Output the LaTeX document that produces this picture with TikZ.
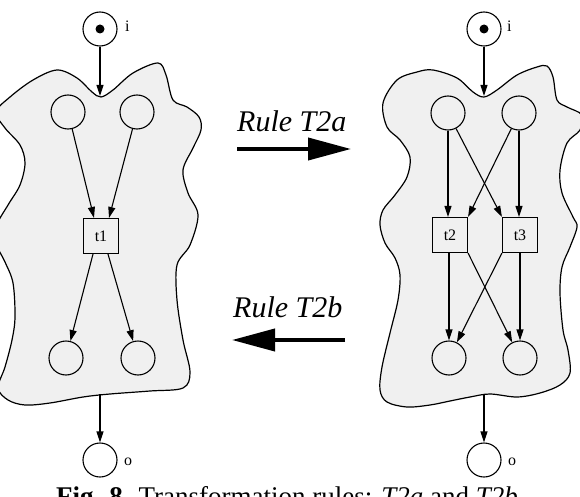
\documentclass[tikz,border=0pt]{standalone}
\usepackage{fontspec}
\setmainfont{Liberation Serif}
\usetikzlibrary{arrows.meta}
\begin{document}
\begin{tikzpicture}[x=1pt,y=-1pt,
  place/.style={circle,draw,line width=1.1pt,minimum size=34pt,inner sep=0pt},
  trans/.style={rectangle,draw,line width=1.1pt,minimum size=35pt,inner sep=0pt,font=\fontsize{16}{18}\selectfont},
  arc/.style={line width=1.1pt,-{Triangle[length=11pt,width=7pt]}},
  blob/.style={draw,line width=1.2pt,fill=gray!12},
  lbl/.style={anchor=base west,inner sep=0pt,font=\fontsize{16}{18}\selectfont},
  rulearrow/.style={line width=4pt,-{Triangle[length=43pt,width=22pt]}},
  ruletext/.style={anchor=base west,inner sep=0pt,font=\fontsize{30}{34}\selectfont\itshape}]
\useasboundingbox (0,0) rectangle (580,497);

% ---------- left blob ----------
\draw[blob] plot[smooth cycle,tension=0.55] coordinates {
 (-4,112) (10,97) (33,80) (57,70) (77,78) (92,92) (101,97) (113,90) (133,73)
 (158,63) (166,75) (173,100) (187,107) (199,117) (201,130) (193,148) (183,170)
 (188,193) (198,215) (190,245) (177,265) (177,300) (183,340) (190,372) (183,388)
 (150,391) (110,394) (83,397) (50,403) (25,405) (8,400) (-2,388) (5,367)
 (12,340) (15,317) (13,283) (5,262) (-3,245) (-3,225) (8,205) (20,185)
 (25,163) (20,145) (5,128)};

% ---------- right blob ----------
\draw[blob] plot[smooth cycle,tension=0.55] coordinates {
 (383,103) (397,80) (417,72) (433,70) (457,78) (473,92) (484,97) (497,90)
 (517,75) (537,67) (547,66) (553,77) (557,100) (567,107) (582,115) (580,130)
 (567,143) (560,170) (562,193) (573,217) (577,227) (570,247) (562,267) (560,293)
 (563,330) (568,350) (570,373) (560,385) (540,393) (517,397) (490,394) (470,397)
 (450,401) (430,405) (407,407) (387,402) (380,390) (382,367) (390,333) (398,300)
 (400,275) (395,258) (385,243) (380,225) (383,210) (395,195) (407,177) (410,157)
 (400,140) (387,127)};

% ---------- left net ----------
\node[place] (li) at (100,29) {};
\fill (li.center) circle (4.5pt);
\node[lbl] (lil) at (125,32) {i};
\coordinate (ldip) at (100,96);
\draw[arc] (li) -- (ldip);
\node[place] (p1) at (68,112) {};
\node[place] (p2) at (137,112) {};
\node[trans] (t1) at (101,236) {t1};
\node[place] (p3) at (66,358) {};
\node[place] (p4) at (138,358) {};
\draw[arc] (p1) -- ([xshift=-7pt]t1.north);
\draw[arc] (p2) -- ([xshift=8pt]t1.north);
\draw[arc] ([xshift=-8pt]t1.south) -- (p3);
\draw[arc] ([xshift=7pt]t1.south) -- (p4);
\coordinate (lbot) at (100,394);
\node[place] (lo) at (100,460) {};
\node[lbl] (lol) at (124,465) {o};
\draw[arc] (lbot) -- (lo);

% ---------- right net ----------
\node[place] (ri) at (484,29) {};
\fill (ri.center) circle (4.5pt);
\node[lbl] (ril) at (507,32) {i};
\coordinate (rdip) at (484,96);
\draw[arc] (ri) -- (rdip);
\node[place] (q1) at (448,113) {};
\node[place] (q2) at (519,113) {};
\node[trans] (t2) at (450,235) {t2};
\node[trans] (t3) at (520,235) {t3};
\node[place] (q3) at (449,358) {};
\node[place] (q4) at (520,358) {};
\draw[arc] (q1.south) -- (q1.south |- t2.north);
\draw[arc] (q1) -- (t3.north west);
\draw[arc] (q2) -- (t2.north east);
\draw[arc] (q2.south) -- (q2.south |- t3.north);
\draw[arc] (q3.north |- t2.south) -- (q3.north);
\draw[arc] (t2.south east) -- (q4);
\draw[arc] (t3.south west) -- (q3);
\draw[arc] (q4.north |- t3.south) -- (q4.north);
\coordinate (rbot) at (484,394);
\node[place] (ro) at (484,460) {};
\node[lbl] (rol) at (508,465) {o};
\draw[arc] (rbot) -- (ro);

% ---------- rule arrows ----------
\node[ruletext] (ra) at (237,132) {Rule T2a};
\coordinate (ras) at (237,149);
\coordinate (rae) at (351,149);
\draw[rulearrow] (ras) -- (rae);
\node[ruletext] (rb) at (233,317) {Rule T2b};
\coordinate (rbs) at (345,340);
\coordinate (rbe) at (232,340);
\draw[rulearrow] (rbs) -- (rbe);

% ---------- caption ----------
\node[anchor=base,inner sep=0pt,font=\fontsize{27}{30}\selectfont] (cap) at (287,505)
  {\textbf{Fig. 8.} Transformation rules: \textit{T2a} and \textit{T2b}};
\end{tikzpicture}
\end{document}
